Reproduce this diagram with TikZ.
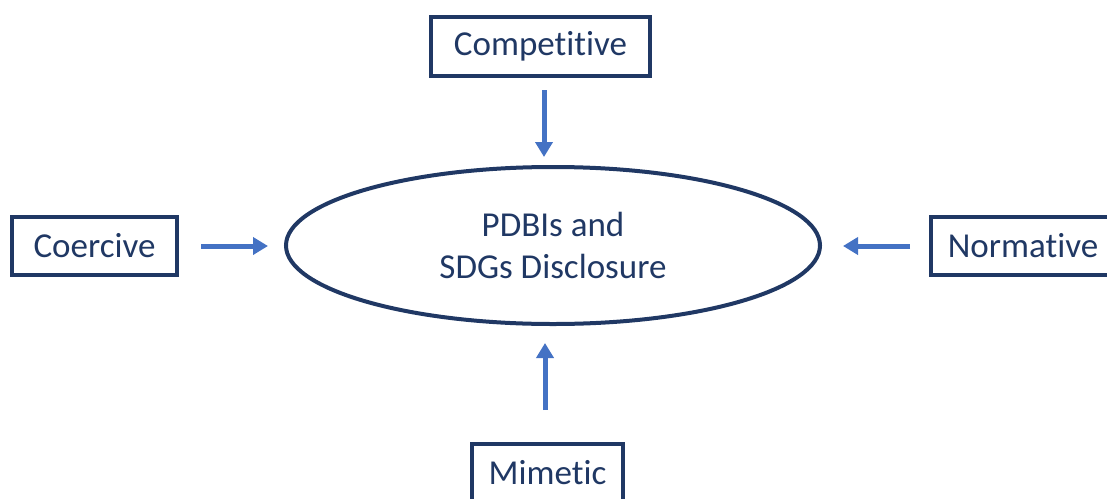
\documentclass[tikz,border=0pt]{standalone}
\usepackage{fontspec}
\setmainfont{Carlito}[Ligatures={NoCommon}]
\usetikzlibrary{arrows.meta,shapes.geometric}
\definecolor{navy}{HTML}{203864}
\definecolor{arrblue}{HTML}{4472C4}
\begin{document}
\begin{tikzpicture}[x=1pt,y=-1pt,
  every node/.style={font=\fontsize{35}{42}\selectfont, text=navy},
  boxnode/.style={draw=navy, line width=4pt, rectangle, inner sep=0pt, minimum height=58pt},
  ellnode/.style={draw=navy, line width=4pt, ellipse, inner sep=0pt, minimum width=534pt, minimum height=157pt, align=center},
  arr/.style={draw=arrblue, line width=5pt, -{Triangle[width=17pt,length=15pt]}}]
\useasboundingbox (0,0) rectangle (1107,498);
\clip (0,0) rectangle (1107,498);
\node[ellnode] (ell) at (553,245.5) {PDBIs and\\SDGs Disclosure};
\node[boxnode, minimum width=219pt, minimum height=59pt] (comp) at (540.5,46.5) {Competitive};
\node[boxnode, minimum width=165pt] (coer) at (94.5,246) {Coercive};
\node[boxnode, minimum width=184pt] (norm) at (1023,246) {Normative};
\node[boxnode, minimum width=151pt] (mim) at (547.5,473) {Mimetic};
\draw[arr] ([xshift=3.5pt,yshift=-12pt]comp.south) -- ([xshift=-9pt,yshift=8pt]ell.north);
\draw[arr] ([xshift=22pt]coer.east) -- ([xshift=-16pt,yshift=-0.5pt]ell.west);
\draw[arr] ([xshift=-19pt]norm.west) -- ([xshift=21pt,yshift=-0.5pt]ell.east);
\draw[arr] ([xshift=-2.5pt,yshift=32pt]mim.north) -- ([xshift=-8pt,yshift=-17pt]ell.south);
\end{tikzpicture}
\end{document}
